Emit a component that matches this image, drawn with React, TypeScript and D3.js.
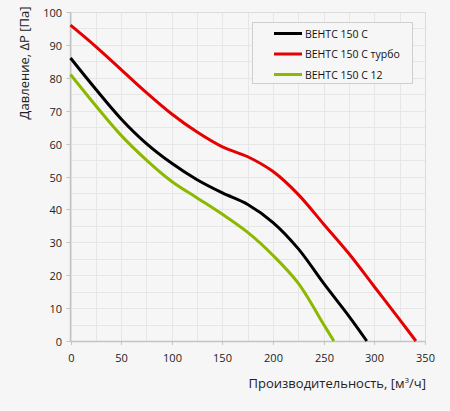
import * as d3 from "d3";
import { useEffect, useRef } from "react";

const W = 450;
const H = 411;

// flow, m³/h
const xTicks = [0, 50, 100, 150, 200, 250, 300, 350];
const yTicks = [0, 10, 20, 30, 40, 50, 60, 70, 80, 90, 100];

const seriesNames = ["ВЕНТС 150 С", "ВЕНТС 150 С турбо", "ВЕНТС 150 С 12"];
const seriesColors = ["#000000", "#e60000", "#8cb800"];

const blackFlow = [0, 25, 50, 75, 100, 125, 150, 175, 200, 225, 250, 275, 292.5];
const blackPress = [86, 76.5, 67.5, 60, 54, 49, 45, 41.5, 36, 28, 17.5, 7.5, 0];

const redFlow = [0, 25, 50, 75, 100, 125, 150, 175, 200, 225, 250, 275, 300, 325, 341];
const redPress = [96, 89.5, 82.5, 75.5, 69, 63.5, 59, 56, 51.5, 44.5, 35.5, 26.5, 16.5, 6.5, 0];

const greenFlow = [0, 25, 50, 75, 100, 125, 150, 175, 200, 225, 250, 260];
const greenPress = [81, 71.5, 62.5, 55, 48.5, 43.5, 38.5, 33, 26, 17.5, 5, 0];

const seriesFlows = [blackFlow, redFlow, greenFlow];
const seriesPress = [blackPress, redPress, greenPress];

export default function App() {
  const svgRef = useRef<SVGSVGElement>(null);

  useEffect(() => {
    if (!svgRef.current) return;
    document.body.style.margin = "0";
    const svg = d3.select(svgRef.current);
    svg.selectAll("*").remove();

    const x = d3.scaleLinear().domain([0, 350]).range([70.5, 425]);
    const y = d3.scaleLinear().domain([0, 100]).range([341, 12]);
    const font = "'Open Sans', 'Noto Sans', sans-serif";

    svg.append("rect").attr("width", W).attr("height", H).attr("fill", "#f6f6f6");

    // grid
    const grid = svg.append("g");
    d3.range(0, 351, 25).forEach((v) => {
      grid
        .append("line")
        .attr("x1", Math.round(x(v)) + 0.5)
        .attr("x2", Math.round(x(v)) + 0.5)
        .attr("y1", y(100))
        .attr("y2", y(0))
        .attr("stroke", "#e6e6e6");
    });
    d3.range(0, 101, 5).forEach((v) => {
      grid
        .append("line")
        .attr("x1", x(0))
        .attr("x2", x(350))
        .attr("y1", Math.round(y(v)) + 0.5)
        .attr("y2", Math.round(y(v)) + 0.5)
        .attr("stroke", "#e6e6e6");
    });

    // frame
    svg
      .append("path")
      .attr("d", `M${x(0)},${Math.round(y(100)) + 0.5}H${Math.round(x(350)) + 0.5}V${y(0)}`)
      .attr("fill", "none")
      .attr("stroke", "#dcdcdc");

    // axes
    const axisColor = "#c4c4c4";
    svg
      .append("line")
      .attr("x1", x(0))
      .attr("x2", x(0))
      .attr("y1", y(100))
      .attr("y2", y(0))
      .attr("stroke", axisColor)
      .attr("stroke-width", 1.5);
    svg
      .append("line")
      .attr("x1", x(0))
      .attr("x2", x(350))
      .attr("y1", Math.round(y(0)) + 0.5)
      .attr("y2", Math.round(y(0)) + 0.5)
      .attr("stroke", axisColor)
      .attr("stroke-width", 1.5);

    yTicks.forEach((v) => {
      const yy = Math.round(y(v)) + 0.5;
      svg
        .append("line")
        .attr("x1", x(0) - 4)
        .attr("x2", x(0))
        .attr("y1", yy)
        .attr("y2", yy)
        .attr("stroke", axisColor);
      svg
        .append("text")
        .attr("x", 62)
        .attr("y", yy + 4)
        .attr("text-anchor", "end")
        .attr("font-family", font)
        .attr("font-size", 11)
        .attr("fill", "#222")
        .text(v);
    });

    xTicks.forEach((v) => {
      const xx = Math.round(x(v)) + 0.5;
      svg
        .append("line")
        .attr("x1", xx)
        .attr("x2", xx)
        .attr("y1", y(0))
        .attr("y2", y(0) + 4)
        .attr("stroke", axisColor);
      svg
        .append("text")
        .attr("x", xx)
        .attr("y", 362)
        .attr("text-anchor", "middle")
        .attr("font-family", font)
        .attr("font-size", 11)
        .attr("fill", "#222")
        .text(v);
    });

    // axis titles
    svg
      .append("text")
      .attr("transform", `translate(29,63) rotate(-90)`)
      .attr("text-anchor", "middle")
      .attr("font-family", font)
      .attr("font-size", 13)
      .attr("fill", "#222")
      .text("Давление, ΔP [Па]");

    const xt = svg
      .append("text")
      .attr("x", 426)
      .attr("y", 388)
      .attr("text-anchor", "end")
      .attr("font-family", font)
      .attr("font-size", 13)
      .attr("fill", "#222");
    xt.append("tspan").text("Производительность, [м");
    xt.append("tspan").attr("font-size", 8).attr("dy", -5).text("3");
    xt.append("tspan").attr("dy", 5).text("/ч]");

    // curves
    const line = d3
      .line<[number, number]>()
      .x((d) => x(d[0]))
      .y((d) => y(d[1]))
      .curve(d3.curveCatmullRom.alpha(0.5));

    seriesNames.forEach((_, i) => {
      const pts = seriesFlows[i].map((f, j) => [f, seriesPress[i][j]] as [number, number]);
      svg
        .append("path")
        .attr("d", line(pts) ?? "")
        .attr("fill", "none")
        .attr("stroke", seriesColors[i])
        .attr("stroke-width", 3)
        .attr("stroke-linejoin", "round");
    });

    // legend
    const lg = svg.append("g");
    lg.append("rect")
      .attr("x", 252.5)
      .attr("y", 22.5)
      .attr("width", 160)
      .attr("height", 61)
      .attr("fill", "#f6f6f6")
      .attr("stroke", "#cfcfcf");
    seriesNames.forEach((name, i) => {
      const ly = 33.5 + i * 20.5;
      lg.append("line")
        .attr("x1", 274)
        .attr("x2", 302)
        .attr("y1", ly)
        .attr("y2", ly)
        .attr("stroke", seriesColors[i])
        .attr("stroke-width", 3);
      lg.append("text")
        .attr("x", 305)
        .attr("y", ly + 4)
        .attr("font-family", font)
        .attr("font-size", 10.5)
        .attr("fill", "#111")
        .text(name);
    });
  }, []);

  return (
    <svg
      ref={svgRef}
      width={W}
      height={H}
      style={{ position: "absolute", left: 0, top: 0, display: "block" }}
    />
  );
}
